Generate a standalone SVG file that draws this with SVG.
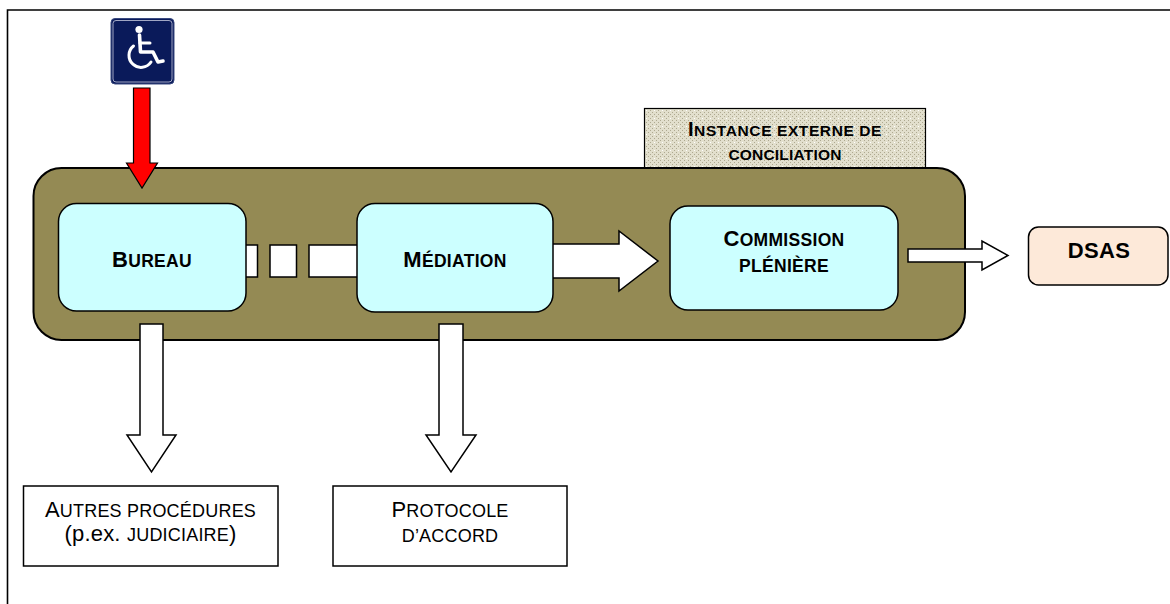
<svg xmlns="http://www.w3.org/2000/svg" width="1170" height="604" viewBox="0 0 1170 604">
<style>
.t{font-family:"Liberation Sans",Arial,sans-serif;fill:#000;text-anchor:middle}
.b{font-weight:bold;letter-spacing:0.3px}
.r{letter-spacing:0.2px}
.node{fill:#ccffff;stroke:#000;stroke-width:1.5}
.wbox{fill:#fff;stroke:#000;stroke-width:1.5}
.conn{fill:#fff;stroke:#000;stroke-width:1.5;stroke-linejoin:miter}
</style>
<defs>
<pattern id="dots" width="8" height="8" patternUnits="userSpaceOnUse">
<rect width="8" height="8" fill="#e2dfcd"/>
<rect x="0" y="0" width="1" height="1" fill="#aea990"/>
<rect x="2" y="2" width="1" height="1" fill="#aea990"/>
<rect x="4" y="0" width="1" height="1" fill="#aea990"/>
<rect x="6" y="2" width="1" height="1" fill="#aea990"/>
<rect x="0" y="4" width="1" height="1" fill="#aea990"/>
<rect x="4" y="4" width="1" height="1" fill="#aea990"/>
<rect x="2" y="6" width="1" height="1" fill="#aea990"/>
<rect x="6" y="6" width="1" height="1" fill="#ffffff"/>
</pattern>
</defs>
<rect width="1170" height="604" fill="#fff"/>
<path d="M7.5,604 L7.5,10 L1170,10" fill="none" stroke="#000" stroke-width="1.6"/>

<g id="instance-externe">
<rect x="644.5" y="108.5" width="281" height="70" fill="url(#dots)" stroke="#000" stroke-width="1.2"/>
<text class="t b" y="136" style="letter-spacing:0.6px"><tspan x="785" font-size="20">I</tspan><tspan font-size="15.5">NSTANCE EXTERNE DE</tspan></text>
<text class="t b" x="785" y="160" font-size="15.5" style="letter-spacing:0.2px">CONCILIATION</text>
</g>

<g id="conteneur">
<rect x="33.5" y="168" width="931.5" height="172" rx="28" ry="28" fill="#948a54" stroke="#000" stroke-width="2"/>
</g>

<g id="usager">
<rect x="111" y="18.5" width="63" height="65.5" rx="4" fill="#0a1a5a" stroke="#3a4a80" stroke-width="1"/>
<rect x="113" y="20.5" width="59" height="61.5" rx="3" fill="none" stroke="#c8cce0" stroke-width="0.8"/>
<circle cx="139" cy="29.5" r="3.6" fill="#fff"/>
<path d="M139.5,35 L140.5,52 L153,52 L158,62 L163,61" fill="none" stroke="#fff" stroke-width="3.6" stroke-linejoin="round" stroke-linecap="round"/>
<path d="M140,43 L150,43" fill="none" stroke="#fff" stroke-width="3" stroke-linecap="round"/>
<path d="M133.5,46 A12,12 0 1 0 151,62" fill="none" stroke="#fff" stroke-width="3" stroke-linecap="round"/>
</g>

<g id="connecteurs">
<path d="M133.5,88 L150,88 L150,163 L157.5,163 L142,188 L126.5,163 L133.5,163 Z" fill="#ff0000" stroke="#000" stroke-width="1.2"/>
<rect class="conn" x="240" y="245" width="17.5" height="32"/>
<rect class="conn" x="270" y="245" width="26.5" height="32"/>
<rect class="conn" x="309" y="245" width="55" height="32"/>
<path class="conn" d="M545,244 L619,244 L619,231 L658,261 L619,291 L619,278 L545,278 Z"/>
<path class="conn" d="M908,249 L982,249 L982,241 L1008,255.5 L982,270 L982,262 L908,262 Z"/>
<path class="conn" d="M140,324 L163,324 L163,435 L176,435 L151.5,472 L127,435 L140,435 Z"/>
<path class="conn" d="M439,324 L463,324 L463,435 L476,435 L451,472 L426,435 L439,435 Z"/>
</g>

<g id="bureau">
<rect class="node" x="58.5" y="203.5" width="187.5" height="107.5" rx="18" ry="18"/>
<text class="t b" y="267"><tspan x="152" font-size="22">B</tspan><tspan font-size="17.5">UREAU</tspan></text>
</g>

<g id="mediation">
<rect class="node" x="357" y="203.5" width="196" height="108.5" rx="18" ry="18"/>
<text class="t b" y="267"><tspan x="455" font-size="22">M</tspan><tspan font-size="17.5">ÉDIATION</tspan></text>
</g>

<g id="commission">
<rect class="node" x="670" y="206" width="228" height="104" rx="18" ry="18"/>
<text class="t b" y="246"><tspan x="784" font-size="22">C</tspan><tspan font-size="17.5">OMMISSION</tspan></text>
<text class="t b" x="784" y="272" font-size="17.5">PLÉNIÈRE</text>
</g>

<g id="dsas">
<rect x="1028.5" y="227" width="139.5" height="58" rx="10" ry="10" fill="#fde9d9" stroke="#000" stroke-width="1.5"/>
<text class="t b" x="1099" y="258" font-size="22">DSAS</text>
</g>

<g id="autres-procedures">
<rect class="wbox" x="23.5" y="486" width="254.5" height="80"/>
<text class="t r" y="517"><tspan x="150.5" font-size="22">A</tspan><tspan font-size="18">UTRES PROCÉDURES</tspan></text>
<text class="t r" y="541"><tspan x="150.5" font-size="22">(p.ex. </tspan><tspan font-size="18">JUDICIAIRE</tspan><tspan font-size="22">)</tspan></text>
</g>

<g id="protocole">
<rect class="wbox" x="333" y="486" width="234" height="80"/>
<text class="t r" y="516.5"><tspan x="450" font-size="22">P</tspan><tspan font-size="18">ROTOCOLE</tspan></text>
<text class="t r" x="450" y="541.5" font-size="18">D’ACCORD</text>
</g>
</svg>
